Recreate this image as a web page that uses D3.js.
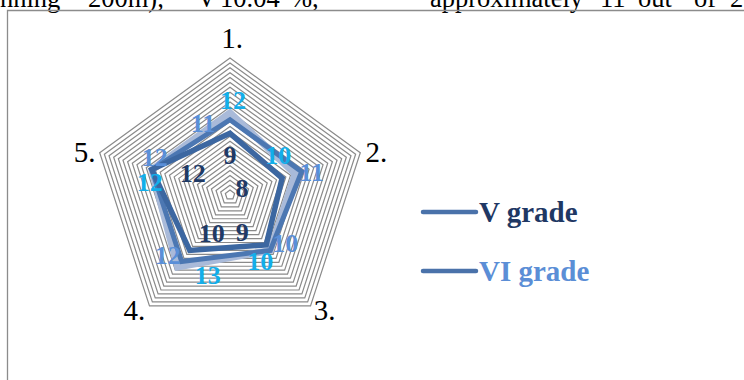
<!DOCTYPE html>
<html>
<head>
<meta charset="utf-8">
<script src="https://cdn.jsdelivr.net/npm/d3@7"></script>
<style>
	html, body { margin: 0; padding: 0; background: #fff; overflow: hidden; }
	svg { display: block; font-family: "Liberation Serif", "Times New Roman", serif; }
</style>
</head>
<body>
<svg id="chart"></svg>
<script>
const axes = ['1.', '2.', '3.', '4.', '5.'];
const seriesNames = ['V grade', 'VI grade', 'extra'];
const vGrade = [9, 8, 9, 10, 12];
const viGrade = [11, 11, 10, 12, 12];
const extraSeries = [12, 10, 10, 13, 12];
const legendNames = ['V grade', 'VI grade'];
const scaleMax = 20;
const ringCount = 28;

// pixel nudges for the hand-moved data labels, per series and axis
const labelNudge = {
	'V grade': [[0, 22], [-40, 10], [-24, -13], [22, -18], [41, 3]],
	'VI grade': [[-27, 3], [10, 0], [15, -8], [-14, -7], [3, -13]],
	'extra': [[3, -13], [-17, -19], [-10, 10], [30, 8], [-2, 12]],
};
const axisLabelNudge = [[2, -20], [16, -1], [14, 4], [-15, 4], [-15, -1]];

const width = 744;
const height = 380;
const cx = 230;
const cy = 195;
const radius = 137;

function angleFor(i) {
	return (-90 + 72 * i) * Math.PI / 180;
}

function pointFor(i, r) {
	return [cx + r * Math.cos(angleFor(i)), cy + r * Math.sin(angleFor(i))];
}

function drawPage(svg) {
	// the justified body text line of the page, cut by the top edge
	const textPieces = [
		{ t: 'nning', x: 0 },
		{ t: '200m),', x: 88 },
		{ t: 'V', x: 197 },
		{ t: '10.04', x: 220 },
		{ t: '%,', x: 290 },
		{ t: 'approximately', x: 430 },
		{ t: '11', x: 600 },
		{ t: 'out', x: 638 },
		{ t: 'of', x: 694 },
		{ t: '20', x: 730 },
	];
	svg.append('g').selectAll('text')
		.data(textPieces)
		.enter()
		.append('text')
		.attr('x', d => d.x)
		.attr('y', 6.5)
		.attr('font-size', 26.5)
		.attr('fill', '#000')
		.text(d => d.t);

	svg.append('path')
		.attr('d', `M7.5,${height + 5}V10.5H${width + 5}`)
		.attr('fill', 'none')
		.attr('stroke', '#8c8c8c')
		.attr('stroke-width', 1.3);
}

function drawGrid(svg, rScale) {
	const ringValues = d3.range(1, ringCount + 1).map(k => k * scaleMax / ringCount);
	const ring = v => d3.range(5).map(i => pointFor(i, rScale(v)));
	svg.append('g').selectAll('polygon')
		.data(ringValues)
		.enter()
		.append('polygon')
		.attr('points', d => ring(d).join(' '))
		.attr('fill', 'none')
		.attr('stroke', '#8a8a8a')
		.attr('stroke-width', 1.2);

	svg.append('g').selectAll('text')
		.data(axes)
		.enter()
		.append('text')
		.attr('x', (d, i) => pointFor(i, radius)[0] + axisLabelNudge[i][0])
		.attr('y', (d, i) => pointFor(i, radius)[1] + axisLabelNudge[i][1])
		.attr('dy', '0.35em')
		.attr('text-anchor', 'middle')
		.attr('font-size', 29)
		.attr('fill', '#000')
		.text(d => d);
}

function drawSeries(svg, rScale, values, color, strokeWidth) {
	const line = d3.lineRadial()
		.angle((d, i) => angleFor(i) + Math.PI / 2)
		.radius(d => rScale(d))
		.curve(d3.curveLinearClosed);
	svg.append('path')
		.attr('transform', `translate(${cx},${cy})`)
		.attr('d', line(values))
		.attr('fill', 'none')
		.attr('stroke', color)
		.attr('stroke-width', strokeWidth)
		.attr('stroke-linejoin', 'miter');
}

function drawLabels(svg, rScale, values, name, color) {
	svg.append('g').selectAll('text')
		.data(values)
		.enter()
		.append('text')
		.attr('x', (d, i) => pointFor(i, rScale(d))[0] + labelNudge[name][i][0])
		.attr('y', (d, i) => pointFor(i, rScale(d))[1] + labelNudge[name][i][1])
		.attr('dy', '0.35em')
		.attr('text-anchor', 'middle')
		.attr('font-size', 26)
		.attr('font-weight', 'bold')
		.attr('fill', color)
		.text(d => d3.format('.0f')(d));
}

function drawLegend(svg) {
	const textColors = ['#1f3864', '#5b8ed6'];
	const rows = svg.append('g').selectAll('g')
		.data(legendNames)
		.enter()
		.append('g')
		.attr('transform', (d, i) => `translate(423,${212 + i * 59})`);
	rows.append('line')
		.attr('x1', 0)
		.attr('x2', 53)
		.attr('stroke', '#4a72aa')
		.attr('stroke-width', 4.5)
		.attr('stroke-linecap', 'round');
	rows.append('text')
		.attr('x', 56)
		.attr('dy', '0.33em')
		.attr('font-size', 29)
		.attr('font-weight', 'bold')
		.attr('fill', (d, i) => textColors[i])
		.text(d => d);
}

function render() {
	const svg = d3.select('#chart')
		.attr('width', width)
		.attr('height', height);
	const rScale = d3.scaleLinear().domain([0, scaleMax]).range([0, radius]);

	drawPage(svg);
	drawGrid(svg, rScale);
	drawSeries(svg, rScale, extraSeries, '#a9bad9', 7);
	drawSeries(svg, rScale, viGrade, '#4c77b2', 5);
	drawSeries(svg, rScale, vGrade, '#3c67a1', 5.5);
	drawLabels(svg, rScale, extraSeries, seriesNames[2], '#12aeea');
	drawLabels(svg, rScale, viGrade, seriesNames[1], '#5a8fd8');
	drawLabels(svg, rScale, vGrade, seriesNames[0], '#1f3a66');
	drawLegend(svg);
}

document.addEventListener('DOMContentLoaded', () => {
	render();
});
</script>
</body>
</html>
